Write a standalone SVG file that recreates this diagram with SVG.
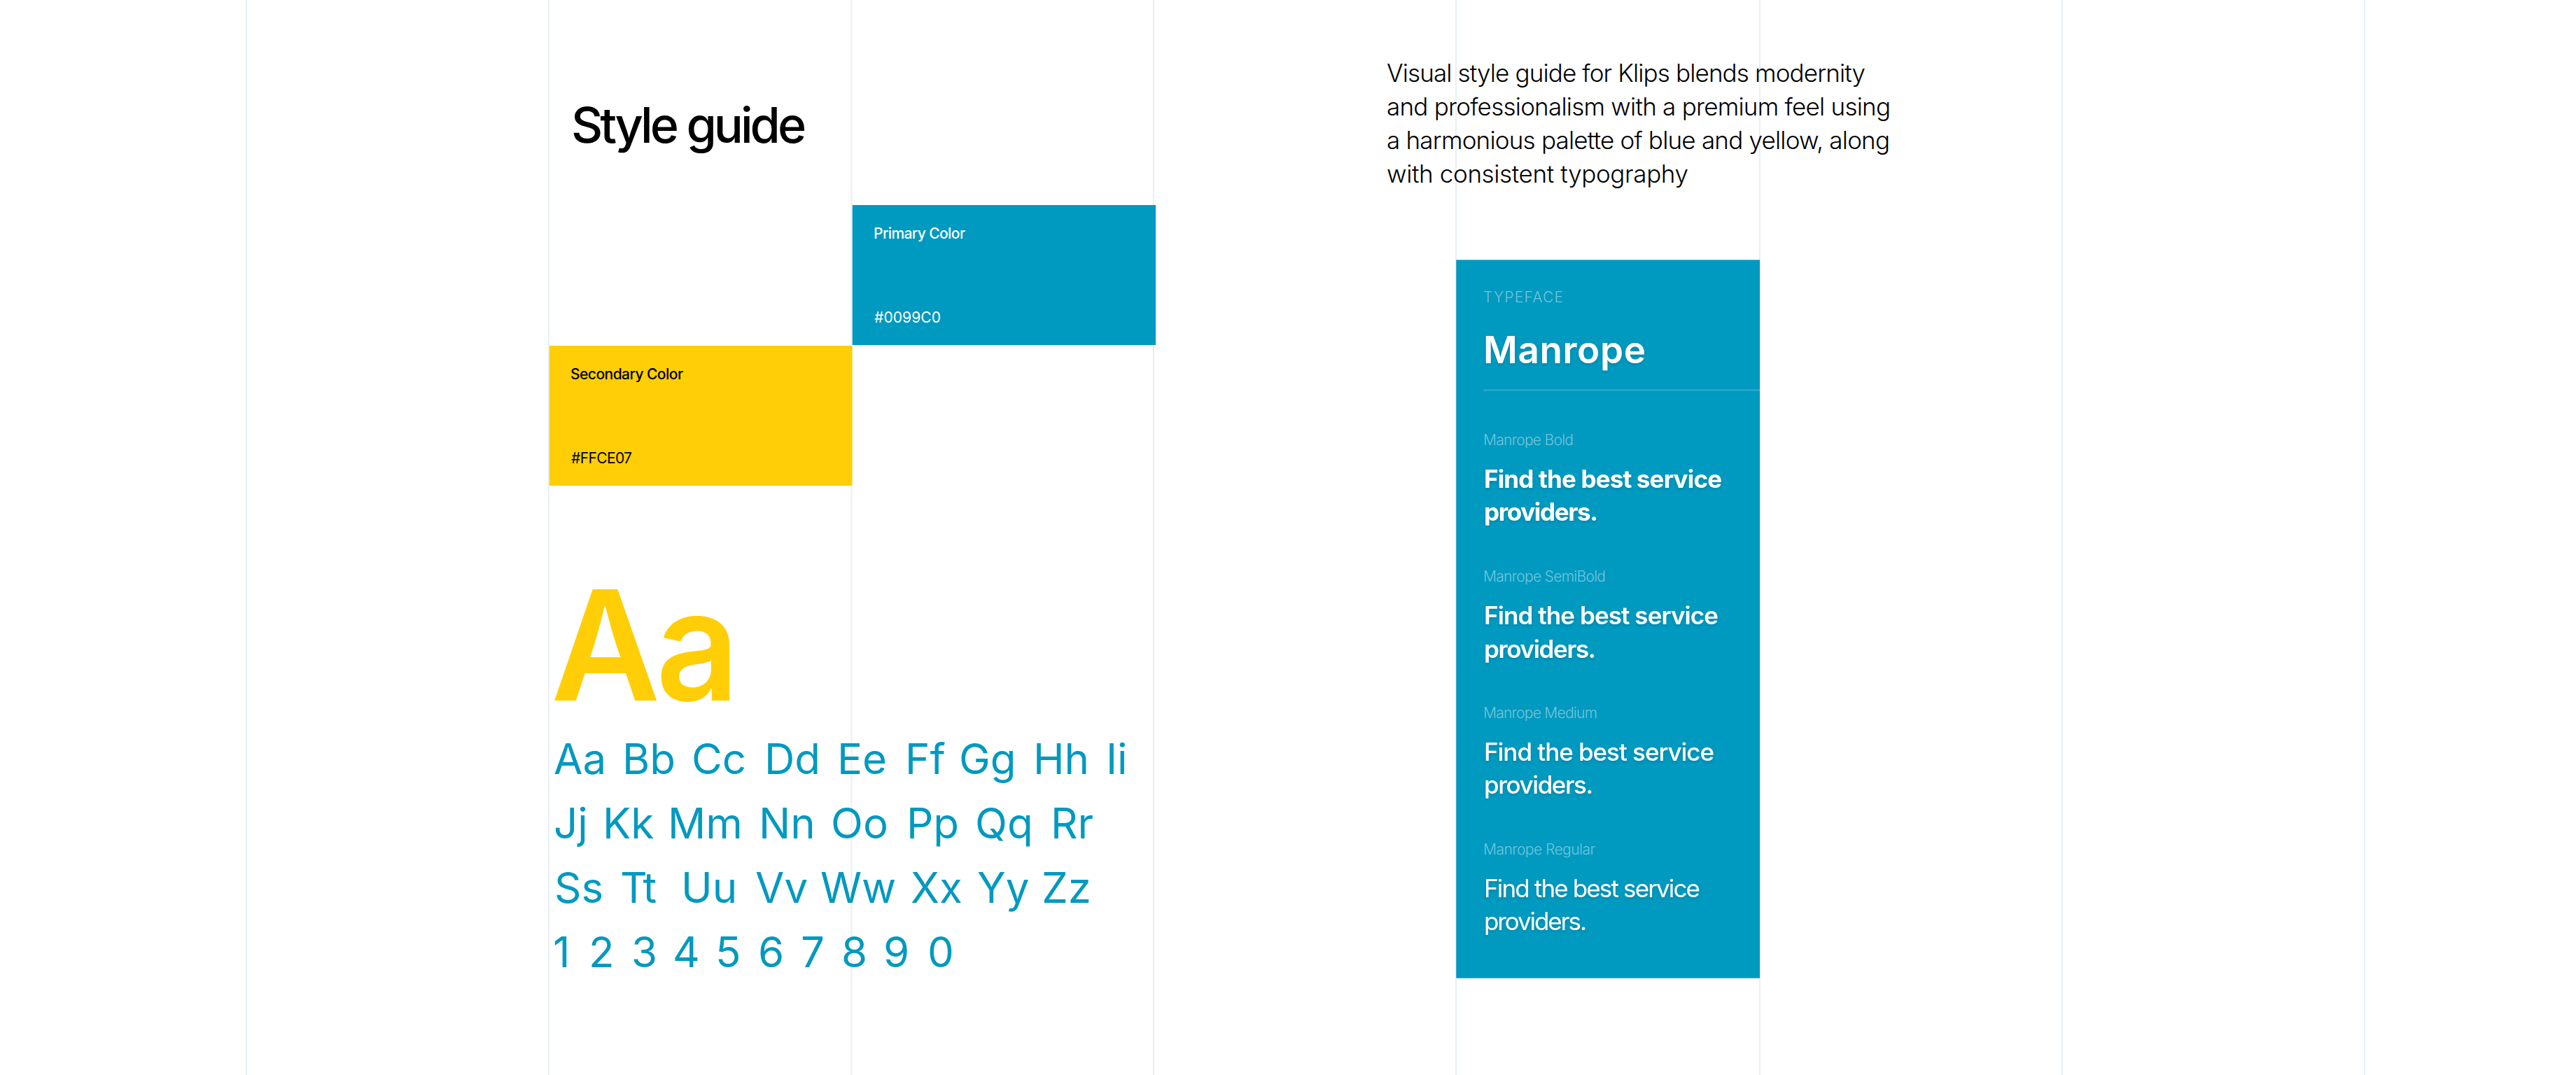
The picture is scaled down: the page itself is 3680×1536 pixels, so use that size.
<svg xmlns="http://www.w3.org/2000/svg" width="3680" height="1536" viewBox="0 0 3680 1536">
<style>
text{font-family:"Inter","Liberation Sans",sans-serif}
.grid{stroke:#e8eff5;stroke-width:2;fill:none}
.blue{fill:#0099c0}
.yellow{fill:#ffce07}
.swatch{font-size:21px;font-weight:500}
.hex{font-size:21px;font-weight:400}
.w{fill:#fff}
.k{fill:#000}
.alpha{font-size:60px;font-weight:400;fill:#0099c0}
.para{font-size:35px;font-weight:350;fill:#000}
.label{font-size:21px;font-weight:300;fill:#fff;fill-opacity:.45}
.sample{font-size:35px;fill:#fff;filter:url(#soft)}
.big{font-size:219px;font-weight:600}
</style>
<defs><filter id="soft" x="-5%" y="-20%" width="110%" height="150%"><feDropShadow dx="0" dy="2" stdDeviation="2" flood-color="#000" flood-opacity=".14"/></filter></defs>
<g id="grid">
<line class="grid" x1="352" y1="0" x2="352" y2="1536"/>
<line class="grid" x1="784" y1="0" x2="784" y2="1536"/>
<line class="grid" x1="1216.5" y1="0" x2="1216.5" y2="1536"/>
<line class="grid" x1="1648" y1="0" x2="1648" y2="1536"/>
<line class="grid" x1="2080" y1="0" x2="2080" y2="1536"/>
<line class="grid" x1="2514" y1="0" x2="2514" y2="1536"/>
<line class="grid" x1="2946" y1="0" x2="2946" y2="1536"/>
<line class="grid" x1="3378" y1="0" x2="3378" y2="1536"/>
</g>
<g id="title"><text class="k" x="816" y="203.5" font-size="70" font-weight="500" textLength="336">Style guide</text></g>
<g id="primary-color">
<rect class="blue" x="1217.7" y="293" width="433.3" height="200"/>
<text class="swatch w" x="1248" y="341" textLength="131">Primary Color</text>
<text class="hex w" x="1249" y="461" textLength="95">#0099C0</text>
</g>
<g id="secondary-color">
<rect class="yellow" x="784.7" y="494" width="432.8" height="200"/>
<text class="swatch k" x="815" y="542" textLength="161">Secondary Color</text>
<text class="hex k" x="816" y="662" textLength="87">#FFCE07</text>
</g>
<g id="specimen">
<text class="yellow big" transform="translate(787 1001) scale(.98 1)">A</text>
<text class="yellow big" transform="translate(937 1001) scale(.945 1)">a</text>
<text class="alpha" y="1106"><tspan x="791">Aa</tspan><tspan x="889">Bb</tspan><tspan x="988">Cc</tspan><tspan x="1092">Dd</tspan><tspan x="1196">Ee</tspan><tspan x="1293">Ff</tspan><tspan x="1370">Gg</tspan><tspan x="1476">Hh</tspan><tspan x="1580">Ii</tspan></text>
<text class="alpha" y="1198"><tspan x="791">Jj</tspan><tspan x="861">Kk</tspan><tspan x="954">Mm</tspan><tspan x="1084">Nn</tspan><tspan x="1187">Oo</tspan><tspan x="1295">Pp</tspan><tspan x="1393">Qq</tspan><tspan x="1501">Rr</tspan></text>
<text class="alpha" y="1290"><tspan x="792">Ss</tspan><tspan x="886">Tt</tspan><tspan x="973">Uu</tspan><tspan x="1079">Vv</tspan><tspan x="1172">Ww</tspan><tspan x="1301">Xx</tspan><tspan x="1396">Yy</tspan><tspan x="1488">Zz</tspan></text>
<text class="alpha" y="1382"><tspan x="790">1</tspan><tspan x="841">2</tspan><tspan x="902">3</tspan><tspan x="961">4</tspan><tspan x="1022">5</tspan><tspan x="1083">6</tspan><tspan x="1144">7</tspan><tspan x="1202">8</tspan><tspan x="1262">9</tspan><tspan x="1325">0</tspan></text>
</g>
<g id="description">
<text class="para" x="1981" y="117" textLength="684">Visual style guide for Klips blends modernity</text>
<text class="para" x="1981" y="165" textLength="720">and professionalism with a premium feel using</text>
<text class="para" x="1981" y="213" textLength="719">a harmonious palette of blue and yellow, along</text>
<text class="para" x="1981" y="261" textLength="431">with consistent typography</text>
</g>
<g id="typeface-panel">
<rect class="blue" x="2080.3" y="371.3" width="433.7" height="1026.4"/>
<text class="label" x="2119" y="432" textLength="114">TYPEFACE</text>
<text class="w" x="2119" y="519" font-size="53" font-weight="600" textLength="232" style="filter:url(#soft)">Manrope</text>
<line x1="2119" y1="557.5" x2="2514" y2="557.5" stroke="#fff" stroke-opacity=".2" stroke-width="2"/>
<text class="label" x="2119" y="635.5" textLength="129">Manrope Bold</text>
<text class="sample" x="2120" y="696.5" font-weight="700" textLength="340">Find the best service</text>
<text class="sample" x="2120" y="744" font-weight="700" textLength="163">providers.</text>
<text class="label" x="2119" y="830.5" textLength="175">Manrope SemiBold</text>
<text class="sample" x="2120" y="892" font-weight="600" textLength="335">Find the best service</text>
<text class="sample" x="2120" y="939.5" font-weight="600" textLength="160">providers.</text>
<text class="label" x="2119" y="1025.5" textLength="163">Manrope Medium</text>
<text class="sample" x="2120" y="1086.5" font-weight="500" textLength="329">Find the best service</text>
<text class="sample" x="2120" y="1134" font-weight="500" textLength="156">providers.</text>
<text class="label" x="2119" y="1220.5" textLength="160">Manrope Regular</text>
<text class="sample" x="2120" y="1281.5" font-weight="400" textLength="309">Find the best service</text>
<text class="sample" x="2120" y="1329" font-weight="400" textLength="147">providers.</text>
</g>
</svg>
